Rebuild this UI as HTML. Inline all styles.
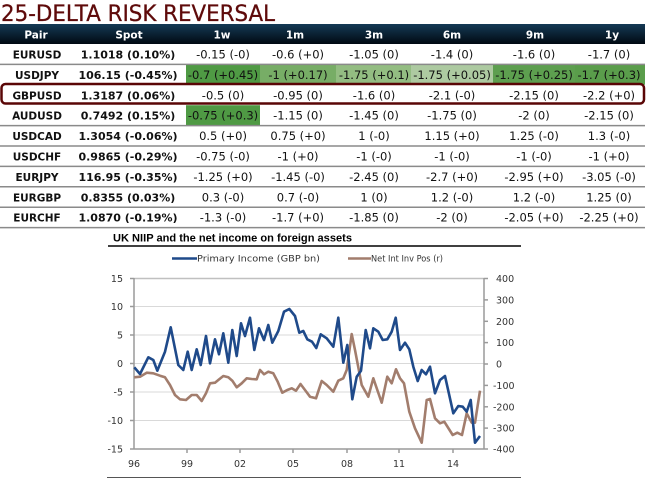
<!DOCTYPE html>
<html>
<head>
<meta charset="utf-8">
<style>
html,body{margin:0;padding:0;background:#fff;}
svg{display:block;}
.h{font-family:"DejaVu Sans",sans-serif;font-weight:bold;font-size:10.5px;fill:#fff;}
.p{font-family:"DejaVu Sans",sans-serif;font-weight:bold;font-size:10.5px;fill:#111;}
.s{font-family:"DejaVu Sans",sans-serif;font-weight:bold;font-size:11px;fill:#111;}
.v{font-family:"DejaVu Sans",sans-serif;font-size:11.5px;fill:#111;}
.ax{font-family:"DejaVu Sans",sans-serif;font-size:9.5px;fill:#333;}
.lg{font-family:"DejaVu Sans",sans-serif;font-size:9px;fill:#333;}
</style>
</head>
<body>
<svg width="646" height="482" viewBox="0 0 646 482" xmlns="http://www.w3.org/2000/svg">
<defs>
<linearGradient id="hg" x1="0" y1="0" x2="0" y2="1">
<stop offset="0" stop-color="#153a55"/>
<stop offset="1" stop-color="#010912"/>
</linearGradient>
</defs>
<rect x="0" y="0" width="646" height="482" fill="#fff"/>
<text x="1" y="21" font-family="DejaVu Sans, sans-serif" font-size="22.5" fill="#5e0a0a" stroke="#5e0a0a" stroke-width="0.3" textLength="274" lengthAdjust="spacingAndGlyphs">25-DELTA RISK REVERSAL</text>

<!-- header -->
<rect x="0" y="24" width="645" height="20" fill="url(#hg)"/>
<g class="h" text-anchor="middle">
<text x="36" y="38.5">Pair</text>
<text x="129" y="38.5">Spot</text>
<text x="222" y="38.5">1w</text>
<text x="295" y="38.5">1m</text>
<text x="374" y="38.5">3m</text>
<text x="452" y="38.5">6m</text>
<text x="535" y="38.5">9m</text>
<text x="612" y="38.5">1y</text>
</g>

<!-- green cells -->
<rect x="186" y="64.4" width="74" height="20.4" fill="#4f9a44"/>
<rect x="260" y="64.4" width="76" height="20.4" fill="#77ad66"/>
<rect x="336" y="64.4" width="75" height="20.4" fill="#93bd82"/>
<rect x="411" y="64.4" width="82" height="20.4" fill="#adcaa1"/>
<rect x="493" y="64.4" width="82" height="20.4" fill="#5d9f4f"/>
<rect x="575" y="64.4" width="70" height="20.4" fill="#5a9d4b"/>
<rect x="186" y="105.2" width="74" height="20.4" fill="#4f9a44"/>

<!-- row lines -->
<g stroke="#8a8a8a" stroke-width="1.5">
<line x1="0" y1="64.4" x2="645" y2="64.4"/>
<line x1="0" y1="125.6" x2="645" y2="125.6"/>
<line x1="0" y1="146" x2="645" y2="146"/>
<line x1="0" y1="166.4" x2="645" y2="166.4"/>
<line x1="0" y1="186.8" x2="645" y2="186.8"/>
<line x1="0" y1="207.2" x2="645" y2="207.2"/>
<line x1="0" y1="227.6" x2="645" y2="227.6"/>
</g>
<rect x="1.5" y="84" width="642.5" height="19.5" rx="4" fill="none" stroke="#5a0606" stroke-width="2.5"/>

<!-- rows -->
<g class="p" text-anchor="middle">
<text x="37" y="58.5">EURUSD</text>
<text x="37" y="78.9">USDJPY</text>
<text x="37" y="99.3">GBPUSD</text>
<text x="37" y="119.7">AUDUSD</text>
<text x="37" y="140.1">USDCAD</text>
<text x="37" y="160.5">USDCHF</text>
<text x="37" y="180.9">EURJPY</text>
<text x="37" y="201.3">EURGBP</text>
<text x="37" y="221.7">EURCHF</text>
</g>
<g class="s" text-anchor="middle">
<text x="128" y="58.5">1.1018 (0.10%)</text>
<text x="128" y="78.9">106.15 (-0.45%)</text>
<text x="128" y="99.3">1.3187 (0.06%)</text>
<text x="128" y="119.7">0.7492 (0.15%)</text>
<text x="128" y="140.1">1.3054 (-0.06%)</text>
<text x="128" y="160.5">0.9865 (-0.29%)</text>
<text x="128" y="180.9">116.95 (-0.35%)</text>
<text x="128" y="201.3">0.8355 (0.03%)</text>
<text x="128" y="221.7">1.0870 (-0.19%)</text>
</g>
<g class="v" text-anchor="middle">
<!-- 1w -->
<text x="223" y="58.5">-0.15 (-0)</text>
<text x="223" y="78.9">-0.7 (+0.45)</text>
<text x="223" y="99.3">-0.5 (0)</text>
<text x="223" y="119.7">-0.75 (+0.3)</text>
<text x="223" y="140.1">0.5 (+0)</text>
<text x="223" y="160.5">-0.75 (-0)</text>
<text x="223" y="180.9">-1.25 (+0)</text>
<text x="223" y="201.3">0.3 (-0)</text>
<text x="223" y="221.7">-1.3 (-0)</text>
<!-- 1m -->
<text x="298" y="58.5">-0.6 (+0)</text>
<text x="298" y="78.9">-1 (+0.17)</text>
<text x="298" y="99.3">-0.95 (0)</text>
<text x="298" y="119.7">-1.15 (0)</text>
<text x="298" y="140.1">0.75 (+0)</text>
<text x="298" y="160.5">-1 (+0)</text>
<text x="298" y="180.9">-1.45 (-0)</text>
<text x="298" y="201.3">0.7 (-0)</text>
<text x="298" y="221.7">-1.7 (+0)</text>
<!-- 3m -->
<text x="374" y="58.5">-1.05 (0)</text>
<text x="374" y="78.9">-1.75 (+0.1)</text>
<text x="374" y="99.3">-1.6 (0)</text>
<text x="374" y="119.7">-1.45 (0)</text>
<text x="374" y="140.1">1 (-0)</text>
<text x="374" y="160.5">-1 (-0)</text>
<text x="374" y="180.9">-2.45 (0)</text>
<text x="374" y="201.3">1 (0)</text>
<text x="374" y="221.7">-1.85 (0)</text>
<!-- 6m -->
<text x="452" y="58.5">-1.4 (0)</text>
<text x="452" y="78.9">-1.75 (+0.05)</text>
<text x="452" y="99.3">-2.1 (-0)</text>
<text x="452" y="119.7">-1.75 (0)</text>
<text x="452" y="140.1">1.15 (+0)</text>
<text x="452" y="160.5">-1 (-0)</text>
<text x="452" y="180.9">-2.7 (+0)</text>
<text x="452" y="201.3">1.2 (-0)</text>
<text x="452" y="221.7">-2 (0)</text>
<!-- 9m -->
<text x="534" y="58.5">-1.6 (0)</text>
<text x="534" y="78.9">-1.75 (+0.25)</text>
<text x="534" y="99.3">-2.15 (0)</text>
<text x="534" y="119.7">-2 (0)</text>
<text x="534" y="140.1">1.25 (-0)</text>
<text x="534" y="160.5">-1 (-0)</text>
<text x="534" y="180.9">-2.95 (+0)</text>
<text x="534" y="201.3">1.2 (-0)</text>
<text x="534" y="221.7">-2.05 (+0)</text>
<!-- 1y -->
<text x="609" y="58.5">-1.7 (0)</text>
<text x="609" y="78.9">-1.7 (+0.3)</text>
<text x="609" y="99.3">-2.2 (+0)</text>
<text x="609" y="119.7">-2.15 (0)</text>
<text x="609" y="140.1">1.3 (-0)</text>
<text x="609" y="160.5">-1 (+0)</text>
<text x="609" y="180.9">-3.05 (-0)</text>
<text x="609" y="201.3">1.25 (0)</text>
<text x="609" y="221.7">-2.25 (+0)</text>
</g>

<!-- chart title -->
<text x="113" y="241.5" font-family="Liberation Sans, sans-serif" font-weight="bold" font-size="11" fill="#000" textLength="239" lengthAdjust="spacingAndGlyphs">UK NIIP and the net income on foreign assets</text>
<line x1="108" y1="246" x2="521" y2="246" stroke="#000" stroke-width="1.5"/>

<!-- legend -->
<line x1="172" y1="258.5" x2="197" y2="258.5" stroke="#1f4a8a" stroke-width="2.5"/>
<text class="lg" x="197" y="261.5" textLength="123" lengthAdjust="spacingAndGlyphs">Primary Income (GBP bn)</text>
<line x1="348" y1="258.5" x2="371" y2="258.5" stroke="#a27d6d" stroke-width="2.5"/>
<text class="lg" x="371" y="261.5" textLength="72" lengthAdjust="spacingAndGlyphs">Net Int Inv Pos (r)</text>

<!-- grid -->
<g stroke="#d9d9d9" stroke-width="1">
<line x1="134" y1="306.5" x2="484" y2="306.5"/>
<line x1="134" y1="335" x2="484" y2="335"/>
<line x1="134" y1="363.5" x2="484" y2="363.5"/>
<line x1="134" y1="392" x2="484" y2="392"/>
<line x1="134" y1="420.5" x2="484" y2="420.5"/>
</g>
<line x1="134" y1="278.5" x2="484" y2="278.5" stroke="#c0c0c0" stroke-width="1.5"/>

<!-- axes -->
<g stroke="#9a9a9a" stroke-width="1.5">
<line x1="134" y1="278" x2="134" y2="449"/>
<line x1="484" y1="278" x2="484" y2="449"/>
<line x1="134" y1="449" x2="484" y2="449"/>
<line x1="130" y1="278.5" x2="134" y2="278.5"/>
<line x1="130" y1="306.5" x2="134" y2="306.5"/>
<line x1="130" y1="335" x2="134" y2="335"/>
<line x1="130" y1="363.5" x2="134" y2="363.5"/>
<line x1="130" y1="392" x2="134" y2="392"/>
<line x1="130" y1="420.5" x2="134" y2="420.5"/>
<line x1="130" y1="449" x2="134" y2="449"/>
<line x1="484" y1="278.5" x2="488" y2="278.5"/>
<line x1="484" y1="299.9" x2="488" y2="299.9"/>
<line x1="484" y1="321.3" x2="488" y2="321.3"/>
<line x1="484" y1="342.6" x2="488" y2="342.6"/>
<line x1="484" y1="364" x2="488" y2="364"/>
<line x1="484" y1="385.4" x2="488" y2="385.4"/>
<line x1="484" y1="406.8" x2="488" y2="406.8"/>
<line x1="484" y1="428.1" x2="488" y2="428.1"/>
<line x1="484" y1="449" x2="488" y2="449"/>
<line x1="187" y1="449" x2="187" y2="453"/>
<line x1="240" y1="449" x2="240" y2="453"/>
<line x1="293" y1="449" x2="293" y2="453"/>
<line x1="347" y1="449" x2="347" y2="453"/>
<line x1="399" y1="449" x2="399" y2="453"/>
<line x1="453" y1="449" x2="453" y2="453"/>
</g>

<g class="ax" text-anchor="end">
<text x="123" y="282">15</text>
<text x="123" y="310">10</text>
<text x="123" y="338.5">5</text>
<text x="123" y="367">0</text>
<text x="123" y="395.5">-5</text>
<text x="123" y="424">-10</text>
<text x="123" y="452.5">-15</text>
</g>
<g class="ax" text-anchor="start">
<text x="496" y="282">400</text>
<text x="496" y="303.4">300</text>
<text x="496" y="324.8">200</text>
<text x="496" y="346.1">100</text>
<text x="496" y="367.5">0</text>
<text x="493" y="388.9">-100</text>
<text x="493" y="410.3">-200</text>
<text x="493" y="431.6">-300</text>
<text x="493" y="452.5">-400</text>
</g>
<g class="ax" text-anchor="middle">
<text x="134" y="467">96</text>
<text x="187" y="467">99</text>
<text x="240" y="467">02</text>
<text x="293" y="467">05</text>
<text x="347" y="467">08</text>
<text x="399" y="467">11</text>
<text x="453" y="467">14</text>
</g>

<!-- series -->
<polyline fill="none" stroke="#a27d6d" stroke-width="2.6" stroke-linejoin="round" points="134.3,377.3 140,376.7 146.7,372.7 153.3,373.3 160,375.7 165,377.3 170,385 175,395 180,399.3 186,400 191.7,395 196.7,395 201.7,401 206,393.3 210,383.3 215,382.7 218.3,380 223.3,376 228.3,377.3 232.3,380.7 236.7,387.3 241.7,383.3 246.7,378.3 251.7,379 256.7,379.3 260,370 264,374.3 268.3,371.7 273.3,373.3 277.7,381.7 282.3,392.7 287.3,390 291.7,388.3 296,390.7 300.5,384 305,390 310,396.7 316,398.3 321.7,381 326.7,385 333.3,391.7 338.3,380.7 343.3,378.3 346.7,370 351.7,334 355,350 361.7,385 368.3,396.7 373.3,378.3 381.7,402.7 387.3,376.7 391.7,383.3 396,369.3 400,378.3 404,383.3 409.3,411.7 415,428.3 421.7,442.7 426.7,400 430,399 435,418.3 440,423.3 444.3,421.7 452.7,435 457.3,432.7 462,435 466.7,413.3 471.7,422.7 475,422.7 480,390.7"/>
<polyline fill="none" stroke="#1f4a8a" stroke-width="2.6" stroke-linejoin="round" points="134.3,367.3 140,374 148.3,357.3 153.3,360 157.3,370.7 165,351.7 170.7,327.3 178.3,365 183.3,370 187.7,351.7 191.7,370 196.7,349.3 200.7,365 206,336 210,363.3 215,339.3 219,354.3 223.3,333.3 228.3,362.7 232.3,330 236.7,356 241,323.3 245,336 250,317.7 254.3,350 259,328.3 264,340 268.3,325 272.3,342.7 278.3,331 284,311.7 289.3,309 295,316 299.3,332.7 303.3,331 307.3,339.3 312,341.7 316.3,348 320.7,334.3 326.7,338.3 333.3,346.7 338.3,317.7 343.3,362.7 347.3,345 352.3,399.3 356.7,376.7 361,370.7 365.7,330 370,348.3 373.3,328.3 378.3,331.7 382.7,340 387.3,339.3 391.7,331.7 395.7,317.7 400,350 405,342.7 409.3,349.3 413.3,366.7 417.7,381 421.7,370 426,374.3 430,366.7 435,393.3 440,380 445,376 453.3,413.3 458.3,406 462.7,406.7 466.7,411.7 470.7,400 475,442.7 480,436"/>

<line x1="107" y1="477.5" x2="521" y2="477.5" stroke="#555" stroke-width="1"/>
</svg>
</body>
</html>
